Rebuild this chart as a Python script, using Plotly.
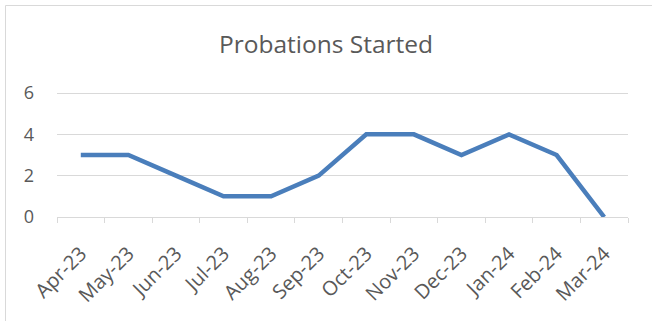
import plotly.graph_objects as go

months = ["Apr-23", "May-23", "Jun-23", "Jul-23", "Aug-23", "Sep-23",
          "Oct-23", "Nov-23", "Dec-23", "Jan-24", "Feb-24", "Mar-24"]
started = [3, 3, 2, 1, 1, 2, 4, 4, 3, 4, 3, 0]
y_ticks = [0, 2, 4, 6]

W, H = 652, 321
L, R, T, B = 57, 24, 92, 104
pw, ph = W - L - R, H - T - B

text_col = "#595959"
grid_col = "#d9d9d9"
font_family = "Open Sans, Liberation Sans, sans-serif"

fig = go.Figure(go.Scatter(
    x=months, y=started, mode="lines",
    line=dict(color="#4a7ebb", width=4.5),
    hoverinfo="x+y",
))

def px_to_paper_x(px):
    return (px - L) / pw

def px_to_paper_y(py):
    return (H - B - py) / ph

fig.update_layout(
    width=W, height=H,
    margin=dict(l=L, r=R, t=T, b=B),
    paper_bgcolor="white", plot_bgcolor="white",
    showlegend=False,
    font=dict(family=font_family, color=text_col, size=14),
    title=dict(text="Probations Started", x=0.5, xanchor="center",
               y=1 - 44 / H, yanchor="middle",
               font=dict(size=24.5, color=text_col, family=font_family)),
    xaxis=dict(
        type="category", tickangle=-45,
        showline=True, linecolor=grid_col, linewidth=1,
        ticks="outside", tickson="boundaries", ticklen=5,
        tickcolor=grid_col, showgrid=False,
        ticklabelstandoff=16,
        tickfont=dict(size=20, color=text_col),
        range=[-0.5, len(months) - 0.5],
    ),
    yaxis=dict(
        range=[0, 6.05], tickvals=y_ticks,
        showgrid=True, gridcolor=grid_col, gridwidth=1,
        zeroline=False, showline=False, ticks="",
        ticklabelstandoff=22,
        tickfont=dict(size=18, color=text_col),
    ),
    shapes=[dict(
        type="rect", xref="paper", yref="paper",
        x0=px_to_paper_x(5.5), x1=px_to_paper_x(W + 10),
        y0=px_to_paper_y(H + 10), y1=px_to_paper_y(5.5),
        line=dict(color=grid_col, width=1), fillcolor="rgba(0,0,0,0)",
        layer="below",
    )],
)

fig.write_html("out.html")
